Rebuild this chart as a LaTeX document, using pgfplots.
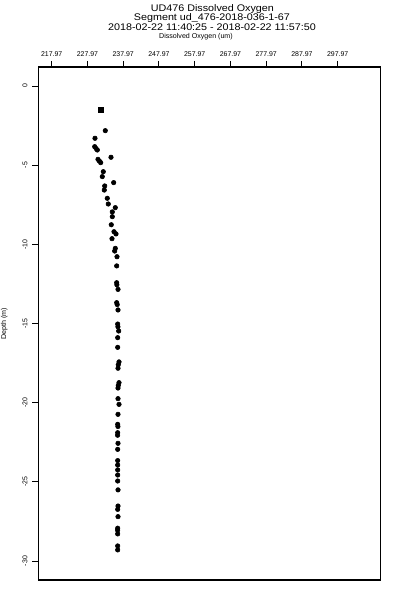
\documentclass[border=0pt]{standalone}
\usepackage{pgfplots}
\pgfplotsset{compat=1.18}
\usepackage{fontspec}
\setmainfont{Liberation Sans}
\begin{document}
\begin{tikzpicture}
\begin{axis}[name=ax,
  scale only axis, width=256.5pt, height=384.75pt,
  xmin=214.22, xmax=309.9, ymin=-31.19, ymax=1.2,
  axis line style={line width=0.8pt}, every tick/.style={line width=0.7pt, black},
  tick align=outside, major tick length=4.5pt,
  xtick pos=right, xticklabel pos=right,
  ytick pos=left,
  xtick={217.97,227.97,237.97,247.97,257.97,267.97,277.97,287.97,297.97},
  xticklabels={217.97,227.97,237.97,247.97,257.97,267.97,277.97,287.97,297.97},
  ytick={0,-5,-10,-15,-20,-25,-30},
  yticklabels={0,-5,-10,-15,-20,-25,-30},
  xticklabel style={font=\fontsize{5.2}{6}\selectfont, inner sep=0pt, yshift=3pt},
  yticklabel style={font=\fontsize{5.2}{6}\selectfont, rotate=90, anchor=south, inner sep=0pt, yshift=3.5pt},
  /pgf/number format/assume math mode=true,
  clip=false,
]
\addplot[only marks, mark=square*, mark size=1.9pt, black] coordinates {(231.76,-1.52)};
\addplot[only marks, mark=*, mark size=1.7pt, black] coordinates {
(232.96,-2.82)
(230.08,-3.30)
(230.00,-3.83)
(230.73,-4.04)
(230.40,-3.95)
(234.56,-4.50)
(230.92,-4.63)
(231.68,-4.84)
(231.30,-4.74)
(232.40,-5.41)
(232.12,-5.72)
(235.31,-6.10)
(232.80,-6.31)
(232.68,-6.57)
(233.52,-7.09)
(233.80,-7.45)
(235.76,-7.68)
(234.92,-7.95)
(234.92,-8.25)
(234.64,-8.76)
(235.40,-9.20)
(235.96,-9.34)
(234.84,-9.64)
(235.76,-10.25)
(235.59,-10.42)
(236.24,-10.78)
(236.15,-11.36)
(236.15,-12.42)
(236.20,-12.55)
(236.52,-12.84)
(236.15,-13.68)
(236.30,-13.80)
(236.52,-14.14)
(236.43,-15.03)
(236.50,-15.20)
(236.71,-15.47)
(236.43,-15.89)
(236.43,-16.50)
(236.80,-17.42)
(236.60,-17.60)
(236.52,-17.82)
(236.80,-18.73)
(236.60,-18.90)
(236.52,-19.07)
(236.52,-19.74)
(236.80,-20.10)
(236.52,-20.73)
(236.43,-21.36)
(236.50,-21.50)
(236.43,-21.89)
(236.40,-22.05)
(236.52,-22.56)
(236.43,-22.94)
(236.43,-23.65)
(236.43,-23.93)
(236.43,-24.24)
(236.43,-24.56)
(236.43,-24.94)
(236.52,-25.50)
(236.52,-26.52)
(236.43,-26.73)
(236.52,-27.19)
(236.43,-27.92)
(236.40,-28.05)
(236.43,-28.28)
(236.43,-29.04)
(236.43,-29.29)
};
\end{axis}
\node[anchor=base, xscale=1.12, font=\fontsize{7.2}{8}\selectfont] at ([xshift=2.3pt,yshift=41.8pt]ax.north) {UD476 Dissolved Oxygen};
\node[anchor=base, xscale=1.12, font=\fontsize{7.2}{8}\selectfont] at ([xshift=2pt,yshift=34.6pt]ax.north) {Segment ud\_476-2018-036-1-67};
\node[anchor=base, xscale=1.12, font=\fontsize{7.2}{8}\selectfont] at ([xshift=2pt,yshift=27.2pt]ax.north) {2018-02-22 11:40:25 - 2018-02-22 11:57:50};
\node[anchor=base, font=\fontsize{5.3}{6}\selectfont] at ([xshift=-10pt,yshift=21pt]ax.north) {Dissolved Oxygen (um)};
\node[rotate=90, font=\fontsize{5.3}{6}\selectfont] at ([xshift=-25.5pt]ax.west) {Depth (m)};
\pgfresetboundingbox
\path[use as bounding box] ([xshift=-28.725pt,yshift=-15pt]ax.south west) rectangle ([xshift=14.775pt,yshift=50.25pt]ax.north east);
\end{tikzpicture}
\end{document}
